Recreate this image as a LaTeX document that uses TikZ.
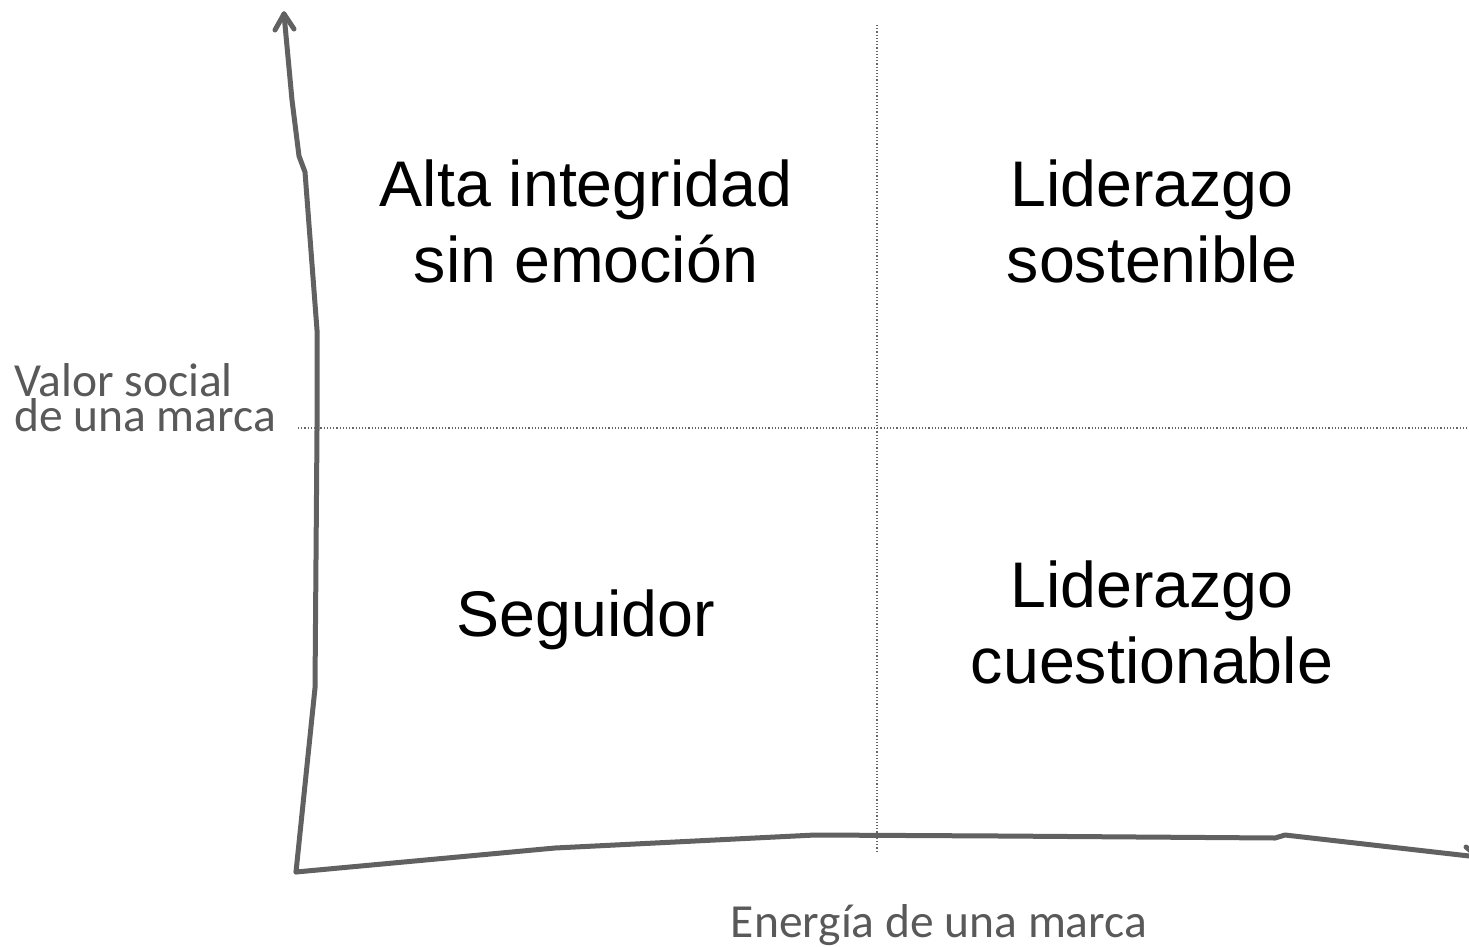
\documentclass[tikz,border=0pt]{standalone}
\usepackage{fontspec}
\setmainfont{Liberation Sans}
\newfontfamily\calib{Carlito}
\begin{document}
\begin{tikzpicture}[x=1pt,y=-1pt,
  axisline/.style={draw=black!62, line width=5pt, line cap=round, line join=round},
  guide/.style={draw=black!60, line width=1.2pt, dotted},
  quad/.style={font=\fontsize{64.5}{76}\selectfont, align=center, inner sep=0pt, anchor=base},
  axlabel/.style={text=black!65, inner sep=0pt}]
\useasboundingbox (0,0) rectangle (1469,947);
% guides
\coordinate (vt) at (877,25);
\coordinate (vb) at (877,852);
\coordinate (hl) at (298,428);
\coordinate (hr) at (1469,428);
\draw[guide] (vt) -- (vb);
\draw[guide] (hl) -- (hr);
% axes
\coordinate (o) at (296,872);
\coordinate (ytip) at (284,14);
\coordinate (xtip) at (1478,857);
\draw[axisline] (o) -- (315,688) -- (317,430) -- (317,330) -- (305,172) -- (299,156) -- (292,100) -- (ytip);
\draw[axisline] (ytip) -- (275,30);
\draw[axisline] (ytip) -- (294,29);
\draw[axisline] (o) -- (555,848) -- (815,835) -- (1000,836) -- (1275,838) -- (1285,835) -- (xtip);
\draw[axisline] (xtip) -- (1466,847);
% quadrant texts (base = baseline of the last line)
\node[quad] (q1) at (586,282) {Alta integridad\\sin emoción};
\node[quad] (q2) at (1152,282) {Liderazgo\\sostenible};
\node[quad] (q3) at (586,636) {Seguidor};
\node[quad] (q4) at (1152,683) {Liderazgo\\cuestionable};
% axis labels
\node[axlabel, anchor=base west, align=left, font=\calib\fontsize{47.5}{30.5}\selectfont] (yl) at (14,431) {Valor social\\de una marca};
\node[axlabel, anchor=base, font=\calib\fontsize{47.5}{50}\selectfont] (xl) at (939,937) {Energía de una marca};
\end{tikzpicture}
\end{document}
